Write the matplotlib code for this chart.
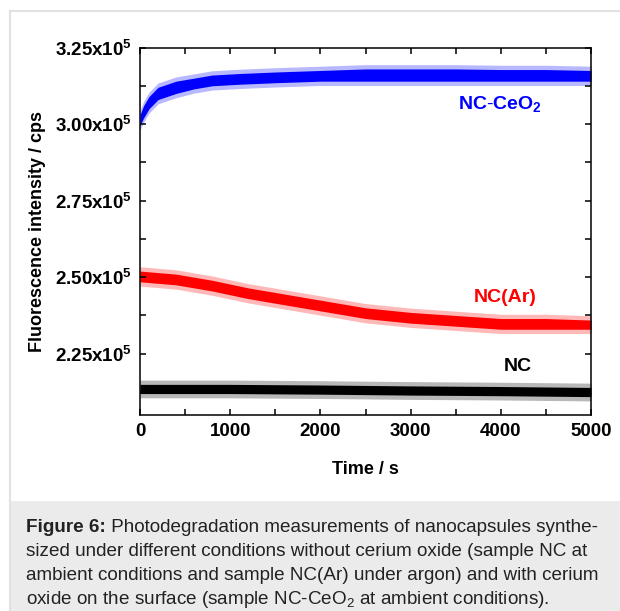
import matplotlib
matplotlib.use("Agg")
import matplotlib.pyplot as plt
from matplotlib.lines import Line2D
from matplotlib.patches import Rectangle
from matplotlib.ticker import MultipleLocator, FuncFormatter
import numpy as np

plt.rcParams['font.family'] = ['Liberation Sans', 'DejaVu Sans']
plt.rcParams['mathtext.fontset'] = 'custom'
plt.rcParams['mathtext.rm'] = 'Liberation Sans'
plt.rcParams['mathtext.bf'] = 'Liberation Sans:bold'
plt.rcParams['mathtext.it'] = 'Liberation Sans:italic'

# envelope of the noisy traces (cps, x1e5)
t_ceo2 = [0, 40, 100, 200, 400, 600, 800, 1100, 1500, 2000, 2500, 3000, 3500, 4000, 4500, 5000]
ceo2_low = [2.995, 3.02, 3.05, 3.08, 3.10, 3.115, 3.125, 3.13, 3.135, 3.14, 3.14, 3.14, 3.14, 3.14, 3.14, 3.14]
ceo2_high = [3.03, 3.06, 3.09, 3.12, 3.14, 3.15, 3.16, 3.165, 3.17, 3.175, 3.18, 3.18, 3.18, 3.178, 3.178, 3.175]

t_ar = [0, 400, 800, 1200, 1600, 2000, 2500, 3000, 3500, 4000, 4500, 5000]
ar_low = [2.485, 2.475, 2.455, 2.43, 2.41, 2.39, 2.365, 2.35, 2.34, 2.33, 2.33, 2.33]
ar_high = [2.52, 2.51, 2.49, 2.465, 2.445, 2.425, 2.40, 2.385, 2.375, 2.365, 2.365, 2.36]

t_nc = [0, 1000, 2000, 3000, 4000, 5000]
nc_low = [2.12, 2.12, 2.118, 2.115, 2.113, 2.11]
nc_high = [2.15, 2.15, 2.148, 2.145, 2.143, 2.14]

spike = 0.014  # extra spread of the sparse spikes around the dense band

series = [
    (t_ceo2, ceo2_low, ceo2_high, "#0000ff"),
    (t_ar, ar_low, ar_high, "#ff0000"),
    (t_nc, nc_low, nc_high, "#000000"),
]

fig = plt.figure(figsize=(6.2, 6.11), dpi=100)
ax = fig.add_axes([140 / 620, 1 - 415 / 611, 451 / 620, 367.5 / 611])

for t, lo, hi, col in series:
    lo = np.array(lo) * 1e5
    hi = np.array(hi) * 1e5
    ax.fill_between(t, lo - spike * 1e5, hi + spike * 1e5, color=col, alpha=0.28, lw=0)
    ax.fill_between(t, lo, hi, color=col, lw=0)

ax.set_xlim(0, 5000)
ax.set_ylim(2.05e5, 3.25e5)
ax.xaxis.set_major_locator(MultipleLocator(1000))
ax.xaxis.set_minor_locator(MultipleLocator(500))
ax.yaxis.set_major_locator(MultipleLocator(0.25e5))
ax.yaxis.set_minor_locator(MultipleLocator(0.125e5))
ax.yaxis.set_major_formatter(FuncFormatter(lambda v, p: r"$\mathbf{%.2fx10^5}$" % (v / 1e5)))
ax.tick_params(which="both", direction="in", top=True, right=True, length=4, width=1.1)
ax.tick_params(which="major", labelsize=13.5, pad=6)
for lab in ax.get_xticklabels():
    lab.set_fontweight("bold")
for s in ax.spines.values():
    s.set_linewidth(1.1)

ax.set_xlabel("Time / s", fontsize=13, fontweight="bold", labelpad=15)
ax.set_ylabel("Fluorescence intensity / cps", fontsize=13, fontweight="bold", labelpad=6)

ax.text(3525, 3.065e5, r"$\mathbf{NC\text{-}CeO_2}$", color="#0000ff", fontsize=14, va="center")
ax.text(3700, 2.434e5, "NC(Ar)", color="#ff0000", fontsize=14, fontweight="bold", va="center")
ax.text(4035, 2.209e5, "NC", color="#000000", fontsize=14, fontweight="bold", va="center")

# page frame and caption box
fig.add_artist(Line2D([10 / 620, 10 / 620], [0, 1 - 10.5 / 611], color="#e2e2e2", lw=1.5))
fig.add_artist(Line2D([10 / 620, 1], [1 - 10.5 / 611, 1 - 10.5 / 611], color="#e2e2e2", lw=1.5))
fig.add_artist(Rectangle((9.5 / 620, 0), 1, 1 - 501 / 611, color="#ebebeb", lw=0))

cap_size = 13.6
cap_head = "Figure 6:"
caption = [
    " Photodegradation measurements of nanocapsules synthe-",
    "sized under different conditions without cerium oxide (sample NC at",
    "ambient conditions and sample NC(Ar) under argon) and with cerium",
    r"oxide on the surface (sample NC-CeO$_2$ at ambient conditions).",
]
head = fig.text(26 / 620, 1 - 527 / 611, cap_head, fontsize=cap_size, fontweight="bold",
                va="center", color="#222222")
fig.canvas.draw()
bb = head.get_window_extent()
for i, line in enumerate(caption):
    x0 = bb.x1 / 620 if i == 0 else 26 / 620
    fig.text(x0, 1 - (527 + 24.3 * i) / 611, line, fontsize=cap_size, va="center", color="#222222")

fig.savefig("out.png", dpi=100)
